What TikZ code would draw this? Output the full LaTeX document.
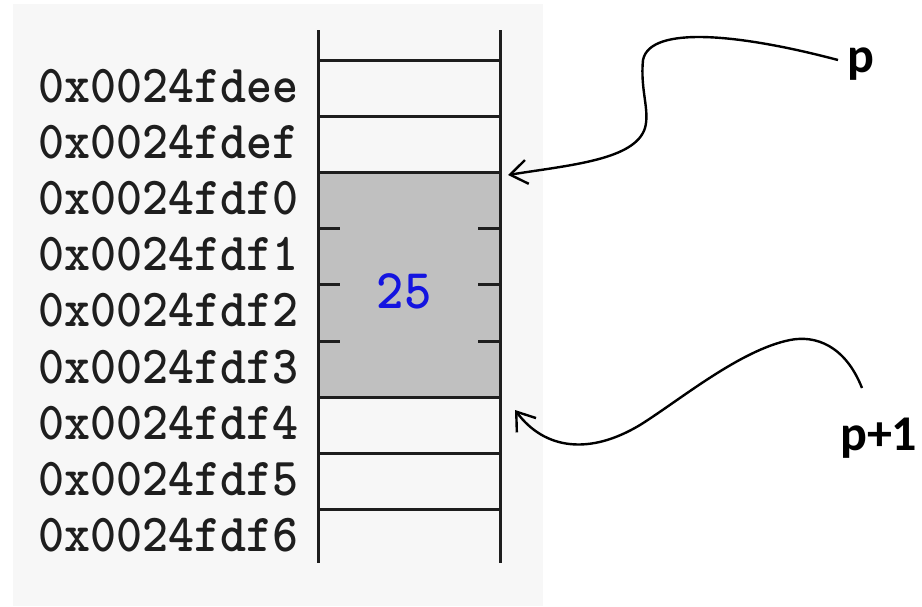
\documentclass[tikz,border=0pt]{standalone}
\usepackage{fontspec}
\usepackage{graphicx}
\newfontfamily\lblfont{Carlito}
\usetikzlibrary{arrows.meta}
\definecolor{panelbg}{HTML}{F7F7F7}
\definecolor{cellfill}{HTML}{C0C0C0}
\definecolor{rulecol}{HTML}{1E1E1E}
\definecolor{valblue}{HTML}{1414E0}
% monospace text, stretched to a slightly taller glyph shape
\newcommand{\tallmono}[1]{\scalebox{1}[1.08]{#1}}
\begin{document}
\begin{tikzpicture}[x=1pt,y=-1pt,
  addr/.style={anchor=base west, inner sep=0pt, text=rulecol,
    font=\ttfamily\bfseries\fontsize{49.5}{50}\selectfont},
  valtext/.style={inner sep=0pt, text=valblue,
    font=\ttfamily\bfseries\fontsize{52}{54}\selectfont},
  cellrule/.style={draw=rulecol, line width=3pt},
  tickmark/.style={draw=rulecol, line width=3pt},
  plabel/.style={anchor=base west, inner sep=0pt, font=\lblfont\bfseries\fontsize{50}{52}\selectfont},
  ptr/.style={line width=2.4pt, -{Straight Barb[length=17pt,width=24pt,line width=2.4pt]}}
]
\useasboundingbox (0,0) rectangle (922,606);
% backdrop
\fill[white] (0,0) rectangle (922,606);
\fill[panelbg] (13,4) rectangle (543,606);

% the four bytes of the int
\fill[cellfill] (318,172.4) rectangle (500,397.2);

% cell borders
\foreach \k in {0,1,2,6,7,8}
  \draw[cellrule] (318,{60+56.2*\k}) -- (500,{60+56.2*\k});
\draw[cellrule] (318,30) -- (318,563);
\draw[cellrule] (500,30) -- (500,563);

% byte boundaries inside the int
\foreach \k in {3,4,5} {
  \draw[tickmark] (318,{60+56.2*\k}) -- (340,{60+56.2*\k});
  \draw[tickmark] (478,{60+56.2*\k}) -- (500,{60+56.2*\k});
}

% addresses
\foreach \i/\a in {0/ee,1/ef,2/f0,3/f1,4/f2,5/f3,6/f4,7/f5,8/f6}
  \node[addr] (addr\i) at (38,{102+56.2*\i}) {\tallmono{0x0024fd\a}};

% stored value
\node[valtext] (val) at (404,291) {\tallmono{25}};

% pointer labels
\node[plabel] (p) at (847,72) {p};
\node[plabel] (pnext) at (840,450) {p+1};

\coordinate (pfrom) at (838,60);
\coordinate (pto) at (508,175);
\coordinate (nfrom) at (862,388);
\coordinate (nto) at (515,410);

\draw[ptr] (pfrom) .. controls (740,34) and (650,25) .. (643,60)
  .. controls (640,90) and (650,110) .. (645,128)
  .. controls (635,160) and (570,165) .. (pto);
\draw[ptr] (nfrom) .. controls (845,345) and (815,335) .. (790,340)
  .. controls (740,350) and (680,400) .. (640,425)
  .. controls (590,455) and (545,450) .. (nto);
\end{tikzpicture}
\end{document}
